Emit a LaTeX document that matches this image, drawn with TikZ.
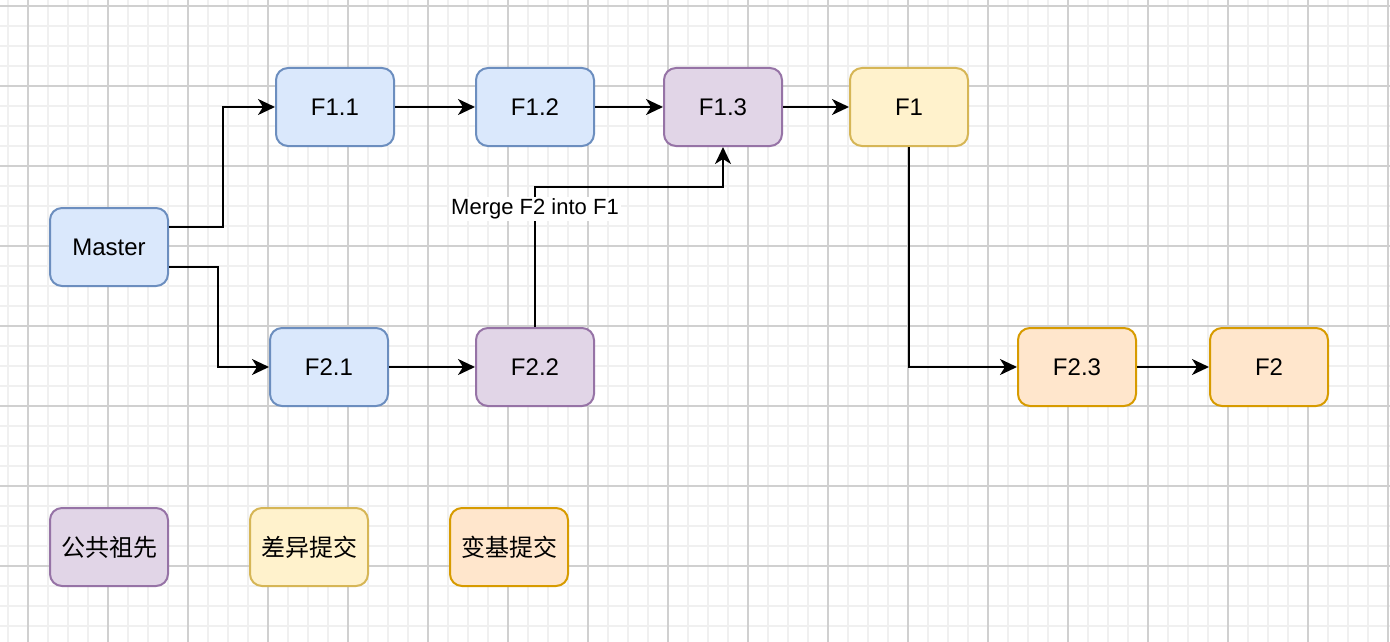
\documentclass[tikz,border=0pt]{standalone}
\usepackage{fontspec}
\setmainfont{Liberation Sans}
\newfontfamily\cjk{Noto Sans CJK SC}
\usepackage{tikz}
\usetikzlibrary{shapes,arrows.meta}

\definecolor{bluefill}{HTML}{DAE8FC}
\definecolor{blueline}{HTML}{6C8EBF}
\definecolor{purplefill}{HTML}{E1D5E7}
\definecolor{purpleline}{HTML}{9673A6}
\definecolor{yellowfill}{HTML}{FFF2CC}
\definecolor{yellowline}{HTML}{D6B656}
\definecolor{orangefill}{HTML}{FFE6CC}
\definecolor{orangeline}{HTML}{D79B00}
\definecolor{gridminor}{HTML}{F0F0F0}
\definecolor{gridmajor}{HTML}{D0D0D0}

\begin{document}
\begin{tikzpicture}
		[
		x = 1pt, y = -1pt,
		commit/.style = {draw, line width = 2pt, rounded corners = 12pt, minimum width = 118pt, minimum height = 78pt, inner sep = 0pt, font = \fontsize{24}{28}\selectfont},
		plain/.style = {commit, fill = bluefill, draw = blueline},
		ancestor/.style = {commit, fill = purplefill, draw = purpleline},
		diff/.style = {commit, fill = yellowfill, draw = yellowline},
		rebased/.style = {commit, fill = orangefill, draw = orangeline},
		flow/.style = {-{Stealth[length = 17pt, width = 16pt, inset = 5pt]}, line width = 2.2pt},
		merge/.style = {fill = white, inner sep = 2pt, font = \fontsize{22}{26}\selectfont}
		]
		
		\useasboundingbox (0,0) rectangle (1390,642);
		\fill[white] (0,0) rectangle (1390,642);
		
		\foreach \x in {8,28,...,1388}
			\draw[gridminor, line width = 1.2pt] (\x,0) -- (\x,642);
		\foreach \y in {6,26,...,640}
			\draw[gridminor, line width = 1.2pt] (0,\y) -- (1390,\y);
		\foreach \x in {28,108,...,1388}
			\draw[gridmajor, line width = 1.2pt] (\x,0) -- (\x,642);
		\foreach \y in {6,86,...,640}
			\draw[gridmajor, line width = 1.2pt] (0,\y) -- (1390,\y);
		
		\node[plain] (master) at (109,247) {Master};
		\node[plain] (f11) at (335,107) {F1.1};
		\node[plain] (f12) at (535,107) {F1.2};
		\node[ancestor] (f13) at (723,107) {F1.3};
		\node[diff] (f1) at (909,107) {F1};
		\node[plain] (f21) at (329,367) {F2.1};
		\node[ancestor] (f22) at (535,367) {F2.2};
		\node[rebased] (f23) at (1077,367) {F2.3};
		\node[rebased] (f2) at (1269,367) {F2};
		
		\node[ancestor] (keyancestor) at (109,547) {\cjk 公共祖先};
		\node[diff] (keydiff) at (309,547) {\cjk 差异提交};
		\node[rebased] (keyrebased) at (509,547) {\cjk 变基提交};
		
		\draw[flow] ([yshift = 20pt]master.east) -- ++(54,0) |- (f11.west);
		\draw[flow] ([yshift = -20pt]master.east) -- ++(49,0) |- (f21.west);
		\draw[flow] (f11) -- (f12);
		\draw[flow] (f12) -- (f13);
		\draw[flow] (f13) -- (f1);
		\draw[flow] (f21) -- (f22);
		\draw[flow] (f22.north) -- node[merge, pos = 0.843] {Merge F2 into F1} ++(0,-140) -| (f13.south);
		\draw[flow] (f1.south) |- (f23.west);
		\draw[flow] (f23) -- (f2);
		
		\end{tikzpicture}
\end{document}
